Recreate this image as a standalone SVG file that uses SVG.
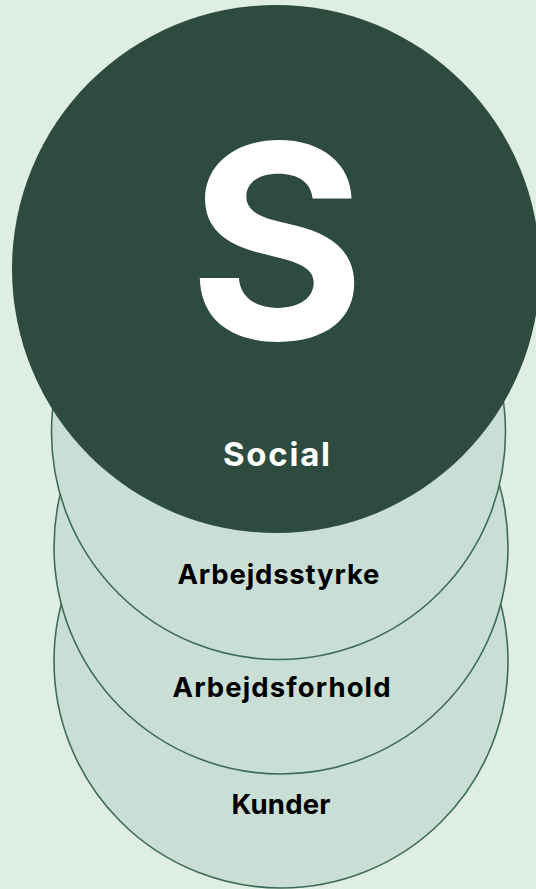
<svg xmlns="http://www.w3.org/2000/svg" width="536" height="889" viewBox="0 0 536 889">
  <style>
    .bg { fill: #deeee3; }
    .layer { fill: #c9dfd6; stroke: #3e6b59; stroke-width: 1.6; }
    .main { fill: #2e4b40; }
    .lbl { font-family: Inter, "Liberation Sans", Arial, sans-serif; font-weight: 700; text-anchor: middle; }
    .dark { fill: #000000; font-size: 27.5px; }
    .white { fill: #ffffff; }
  </style>
  <rect class="bg" x="0" y="0" width="536" height="889"/>
  <g id="node-kunder">
    <circle class="layer" cx="281" cy="661" r="227"/>
    <text class="lbl dark" x="281" y="814" textLength="99" lengthAdjust="spacing">Kunder</text>
  </g>
  <g id="node-arbejdsforhold">
    <circle class="layer" cx="281" cy="547" r="227"/>
    <text class="lbl dark" x="281.5" y="697" textLength="218" lengthAdjust="spacing">Arbejdsforhold</text>
  </g>
  <g id="node-arbejdsstyrke">
    <circle class="layer" cx="278.5" cy="432.5" r="227"/>
    <text class="lbl dark" x="278.5" y="584" textLength="202" lengthAdjust="spacing">Arbejdsstyrke</text>
  </g>
  <g id="node-social">
    <circle class="main" cx="276" cy="269" r="264"/>
    <text class="lbl white" x="277" y="339" font-size="270" font-weight="900">S</text>
    <text class="lbl white" x="276.5" y="466" font-size="33" textLength="107" lengthAdjust="spacing">Social</text>
  </g>
  <g id="connectors"/>
</svg>
